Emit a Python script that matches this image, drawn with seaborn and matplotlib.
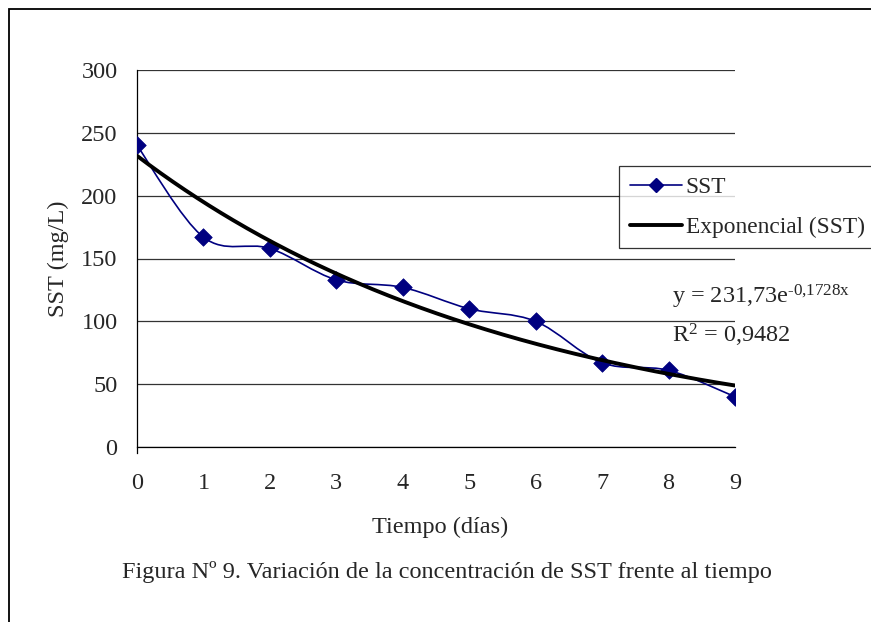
import numpy as np
import pandas as pd
import seaborn as sns
import matplotlib.pyplot as plt
from matplotlib.path import Path
from matplotlib.patches import PathPatch, Rectangle
from matplotlib.lines import Line2D

DIAS = [0, 1, 2, 3, 4, 5, 6, 7, 8, 9]
SST = [240, 167, 158, 133, 127, 110, 100, 67, 61, 40]
Y_TICKS = [0, 50, 100, 150, 200, 250, 300]
# trend line coefficients as printed on the chart
TREND_A = 231.73
TREND_B = -0.1728
EQ_LABEL = r'y = 231,73e$^{\text{-0,1728x}}$'
R2_LABEL = 'R$^2$ = 0,9482'
CAPTION = 'Figura Nº 9. Variación de la concentración de SST frente al tiempo'

FS = 17.5


def smooth_path(x, y):
    # excel style smoothed line: bezier through the points
    verts = [(x[0], y[0])]
    codes = [Path.MOVETO]
    n = len(x)
    for i in range(n - 1):
        x0, y0 = (x[i - 1], y[i - 1]) if i > 0 else (x[i], y[i])
        x3, y3 = (x[i + 2], y[i + 2]) if i + 2 < n else (x[i + 1], y[i + 1])
        c1 = (x[i] + (x[i + 1] - x0) / 6, y[i] + (y[i + 1] - y0) / 6)
        c2 = (x[i + 1] - (x3 - x[i]) / 6, y[i + 1] - (y3 - y[i]) / 6)
        verts += [c1, c2, (x[i + 1], y[i + 1])]
        codes += [Path.CURVE4] * 3
    return Path(verts, codes)


def main():
    sns.set_style('white')
    plt.rcParams['font.family'] = ['Liberation Serif', 'DejaVu Serif']
    plt.rcParams['mathtext.fontset'] = 'custom'
    plt.rcParams['mathtext.rm'] = 'Liberation Serif'
    plt.rcParams['mathtext.it'] = 'Liberation Serif'

    df = pd.DataFrame({'dias': DIAS, 'sst': SST})
    xs = np.linspace(0, 9, 300)
    trend = pd.DataFrame({'dias': xs, 'sst': TREND_A * np.exp(TREND_B * xs)})

    fig = plt.figure(figsize=(8.71, 6.22), dpi=100)
    ax = fig.add_axes([137 / 871, 1 - 447 / 622, (735 - 137) / 871, (447 - 70) / 622])

    ax.add_patch(PathPatch(smooth_path(DIAS, SST), facecolor='none',
                           edgecolor='#000080', lw=1.2, zorder=3))
    sns.scatterplot(data=df, x='dias', y='sst', marker='D', s=80, color='#000080',
                    edgecolor='#000080', linewidth=0.5, ax=ax, zorder=4)
    sns.lineplot(data=trend, x='dias', y='sst', color='black', lw=2.8, ax=ax, zorder=5)

    ax.set_xlim(0, 9)
    ax.set_ylim(0, 300)
    ax.set_xticks(DIAS)
    ax.set_yticks(Y_TICKS)
    ax.set_xticklabels([str(d) for d in DIAS], fontsize=FS)
    ax.set_yticklabels([str(t) for t in Y_TICKS], fontsize=FS)
    ax.tick_params(axis='both', direction='out', length=6, width=0.9, color='black')
    ax.tick_params(axis='y', pad=8)
    ax.tick_params(axis='x', pad=13)
    ax.yaxis.grid(True, color='#333333', lw=0.9)
    ax.set_axisbelow(True)
    for s in ['top', 'right']:
        ax.spines[s].set_visible(False)
    for s in ['left', 'bottom']:
        ax.spines[s].set_color('black')
        ax.spines[s].set_linewidth(0.9)
    ax.spines['left'].set_bounds(-5, 300)
    ax.set_xlabel('')
    ax.set_ylabel('SST (mg/L)', fontsize=FS)
    ax.yaxis.set_label_coords(-0.113, 0.5)

    fig.text(440 / 871, 1 - 527 / 622, 'Tiempo (días)', fontsize=FS, ha='center', va='center')
    fig.text(447 / 871, 1 - 572 / 622, CAPTION, fontsize=FS, ha='center', va='center')

    fig.text(672 / 871, 1 - 297 / 622, EQ_LABEL, fontsize=FS, ha='left', va='center')
    fig.text(672 / 871, 1 - 335 / 622, R2_LABEL, fontsize=FS, ha='left', va='center')

    handles = [
        Line2D([], [], color='#000080', lw=1.2, marker='D', markersize=7),
        Line2D([], [], color='black', lw=2.8),
    ]
    leg = fig.legend(handles, ['SST', 'Exponencial (SST)'], loc='upper left',
                     bbox_to_anchor=(619 / 871, 1 - 166 / 622), fontsize=16.8,
                     frameon=True, fancybox=False, handlelength=2.25, handletextpad=0.15,
                     borderpad=0.45, labelspacing=0.8, borderaxespad=0)
    leg.get_frame().set_edgecolor('black')
    leg.get_frame().set_linewidth(0.9)

    # outer chart border (cut off at right and bottom)
    fig.add_artist(Rectangle((9 / 871, -0.1), 1.2, 1 - 9 / 622 + 0.1, transform=fig.transFigure,
                             fill=False, edgecolor='black', lw=1.3))

    fig.savefig('out.png', dpi=100)


if __name__ == '__main__':
    main()
